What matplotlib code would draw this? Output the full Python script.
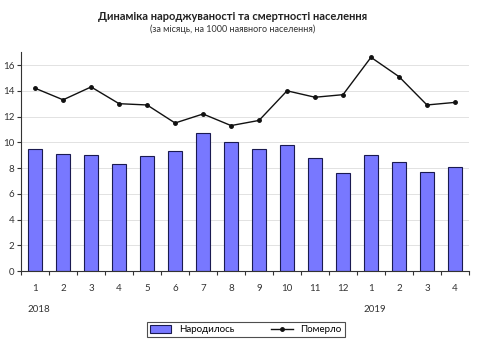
import numpy as np
import matplotlib; matplotlib.use("Agg")
import matplotlib.pyplot as plt
from matplotlib.lines import Line2D
from matplotlib.patches import Patch

months = ["1", "2", "3", "4", "5", "6", "7", "8", "9", "10", "11", "12", "1", "2", "3", "4"]
born = [9.5, 9.1, 9.0, 8.3, 8.9, 9.3, 10.7, 10.0, 9.5, 9.8, 8.8, 7.6, 9.0, 8.5, 7.7, 8.1]
died = [14.2, 13.3, 14.3, 13.0, 12.9, 11.5, 12.2, 11.3, 11.7, 14.0, 13.5, 13.7, 16.6, 15.1, 12.9, 13.1]
years = [(0, "2018"), (12, "2019")]

plt.rcParams["font.family"] = ["Lato", "DejaVu Sans"]
fig = plt.figure(figsize=(4.8, 3.41), dpi=100)
ax = fig.add_axes([0.044, 0.205, 0.933, 0.642])

x = np.arange(len(months))
ax.bar(x, born, width=0.52, color="#7878ff", edgecolor="#1a1a50", linewidth=0.8, zorder=2)
ax.plot(x, died, color="#111111", lw=1.0, marker="o", ms=2.5, zorder=3)

ax.set_xlim(-0.5, len(months) - 0.5)
ax.set_ylim(0, 17)
ax.set_yticks(np.arange(0, 17, 2))
ax.yaxis.grid(True, color="#e2e2e2", lw=0.7, zorder=0)
ax.set_axisbelow(True)
for s in ("top", "right"):
    ax.spines[s].set_visible(False)
ax.spines["left"].set_color("#333333")
ax.spines["bottom"].set_color("#333333")
ax.tick_params(axis="y", labelsize=7, length=3, color="#333333", pad=2, labelcolor="#333333")
ax.set_xticks(np.arange(-0.5, len(months), 1))
ax.set_xticklabels([])
ax.tick_params(axis="x", length=3, color="#333333")
for i, m in enumerate(months):
    ax.text(i, -1.0, m, ha="center", va="top", fontsize=7, color="#333333")
for i, y in years:
    ax.text(i + 0.15, -2.6, y, ha="center", va="top", fontsize=7, color="#333333")

fig.text(0.485, 0.952, "Динаміка народжуваності та смертності населення",
         ha="center", va="center", fontsize=8, fontweight="bold", color="#222222")
fig.text(0.485, 0.915, "(за місяць, на 1000 наявного населення)",
         ha="center", va="center", fontsize=6.5, color="#333333")

handles = [Patch(facecolor="#7878ff", edgecolor="#1a1a50", lw=0.8),
           Line2D([], [], color="#111111", lw=1.0, marker="o", ms=2.5)]
leg = fig.legend(handles, ["Народилось", "Померло"], loc="center",
                 bbox_to_anchor=(0.512, 0.033), ncol=2, fontsize=7, frameon=True,
                 fancybox=False, edgecolor="#222222", handlelength=2.2, handleheight=0.8,
                 columnspacing=3.8, borderpad=0.3)
leg.get_frame().set_linewidth(0.8)

fig.savefig("out.png", dpi=100)
